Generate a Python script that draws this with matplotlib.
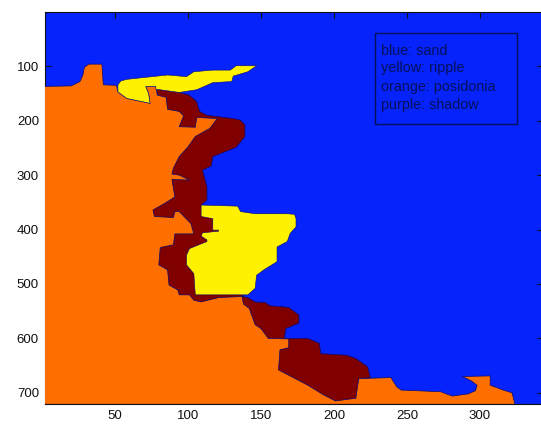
import matplotlib
matplotlib.use("Agg")
import matplotlib.pyplot as plt
from matplotlib.patches import Rectangle

plt.rcParams['font.family'] = ['Liberation Sans', 'DejaVu Sans']

# region outlines (column, row in image units)
orange_x = [1, 20, 26, 28, 29, 32, 41, 42, 51, 52,
            58, 67, 74, 73, 71, 78, 79, 85, 86, 94,
            97, 94, 105, 106, 120, 115, 105, 100, 94, 90,
            89, 94, 101, 89, 91, 84, 76, 77, 90, 91,
            94, 102, 104, 91, 90, 81, 80, 86, 87, 93,
            94, 101, 104, 109, 121, 137, 138, 142, 146, 150,
            155, 169, 169, 163, 162, 172, 182, 193, 201, 215,
            217, 239, 243, 246, 273, 281, 292, 297, 298, 294,
            288, 307, 307, 316, 322, 324, 1]
orange_y = [137, 136, 128, 116, 102, 96, 96, 134, 135, 147,
            159, 164, 168, 150, 137, 137, 153, 157, 179, 183,
            191, 211, 212, 194, 196, 214, 229, 248, 266, 287,
            298, 300, 309, 308, 340, 352, 364, 376, 378, 367,
            367, 389, 408, 408, 428, 433, 465, 474, 502, 511,
            520, 520, 530, 533, 525, 523, 537, 545, 575, 582,
            600, 601, 617, 621, 658, 672, 686, 704, 715, 710,
            674, 672, 689, 695, 698, 706, 702, 696, 686, 678,
            670, 669, 686, 695, 700, 721, 721]

yellow1_x = [52, 54, 58, 86, 99, 104, 117, 129, 133, 147, 141, 131, 130, 117, 106, 94, 78, 78, 71, 73, 74, 67, 58, 52]
yellow1_y = [134, 127, 124, 116, 119, 110, 107, 107, 99, 99, 110, 118, 128, 130, 143, 148, 142, 137, 137, 150, 168, 164, 159, 147]

yellow2_x = [109, 134, 136, 146, 168, 173, 174, 174, 170, 168, 161, 161, 152, 147, 146, 141, 105, 104, 99, 99, 101, 113, 113,
             109, 110, 121, 121, 117, 117, 109]
yellow2_y = [355, 357, 367, 371, 371, 372, 380, 395, 407, 422, 432, 459, 474, 484, 508, 520, 520, 481, 465, 447, 435, 422, 419,
             412, 406, 403, 401, 401, 380, 376]

maroon1_x = [78, 94, 101, 106, 108, 113, 131, 136, 139, 139, 133, 117, 116, 110, 113, 113, 109, 125, 125, 138, 138, 100, 70, 70, 82]
maroon1_y = [142, 148, 153, 165, 183, 190, 196, 199, 208, 229, 249, 266, 283, 291, 321, 346, 355, 370, 515, 521, 526, 540, 500, 300, 170]

maroon2_x = [137, 141, 146, 153, 156, 169, 172, 176, 176, 167, 166, 182, 190, 191, 209, 215, 223, 225, 217, 217, 190, 150, 130]
maroon2_y = [523, 525, 533, 534, 540, 543, 549, 557, 572, 582, 600, 600, 609, 628, 631, 637, 652, 672, 674, 715, 715, 640, 540]

legend_lines = ["blue: sand", "yellow: ripple", "orange: posidonia", "purple: shadow"]
legend_rows = [71, 104, 138, 172]
xticks = [50, 100, 150, 200, 250, 300]
yticks = [100, 200, 300, 400, 500, 600, 700]

blue = "#0523fa"
edge = "#0a0a70"

fig = plt.figure(figsize=(5.41, 4.28), dpi=100)
ax = fig.add_axes([44.5 / 541, 1 - 404 / 428, 498.5 / 541, 392 / 428])
ax.set_facecolor(blue)

ax.fill(maroon1_x, maroon1_y, color="#800000", ec=edge, lw=0.5, zorder=2)
ax.fill(maroon2_x, maroon2_y, color="#800000", ec=edge, lw=0.5, zorder=2)
ax.fill(orange_x, orange_y, color="#ff6f00", ec=edge, lw=0.5, zorder=3)
ax.fill(yellow1_x, yellow1_y, color="#fff200", ec=edge, lw=0.4, zorder=4)
ax.fill(yellow2_x, yellow2_y, color="#fff200", ec=edge, lw=0.4, zorder=4)

ax.set_xlim(1.7, 343.2)
ax.set_ylim(720.6, 0.2)
ax.set_xticks(xticks)
ax.set_yticks(yticks)
ax.tick_params(direction="in", length=4, width=0.8, top=True, right=True, labelsize=9.5, pad=4, colors="#111111")
for s in ax.spines.values():
    s.set_linewidth(0.8)
    s.set_color("#111111")

# text box, same as the annotation in the original
ax.add_patch(Rectangle((228, 39), 97.5, 167, fill=False, ec="#04105a", lw=1, zorder=5))
for line, row in zip(legend_lines, legend_rows):
    ax.text(232, row, line, color="#04105a", fontsize=10.4, va="center", ha="left", zorder=5)

fig.savefig("out.png", dpi=100)
